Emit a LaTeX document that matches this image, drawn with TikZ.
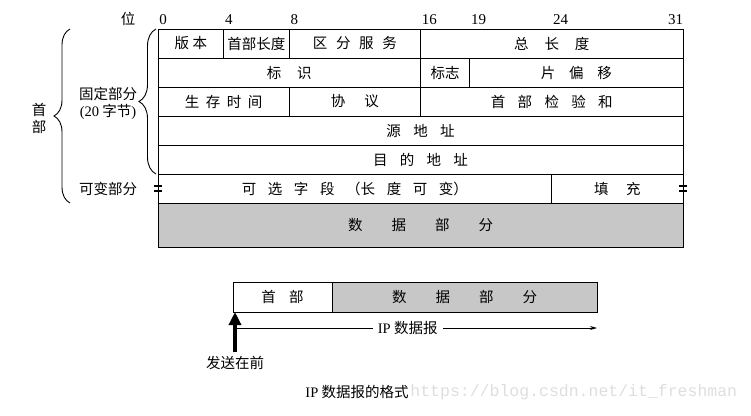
\documentclass[tikz,border=0pt]{standalone}
\usepackage{fontspec}
\setmainfont{Liberation Serif}
\newfontfamily\cjk{Noto Sans CJK SC}
\newfontfamily\wmfont{Liberation Mono}
\usetikzlibrary{positioning,arrows.meta,decorations.pathreplacing}
\definecolor{datagray}{gray}{0.78}
\newcommand{\cgap}[1]{\hspace{#1em}}
\def\bw{16.40625}

\begin{document}
\begin{tikzpicture}[x=1pt,y=-1pt,thick,
  cell/.style={draw,line width=0.9pt,inner sep=0pt,outer sep=0pt,minimum height=29pt,font=\cjk\fontsize{14.5}{17}\selectfont},
  side/.style={align=center,inner sep=0pt,font=\cjk\fontsize{14.5}{17}\selectfont},
  bitlabel/.style={anchor=west,inner sep=1pt,font=\fontsize{15}{17}\selectfont},
  curly/.style={decorate,decoration={brace,amplitude=#1},line width=0.9pt},
  eqmark/.style={line width=1.6pt},
  shaded/.style={fill=datagray}]

  \useasboundingbox (0,0) rectangle (751,415);

  \node[side] (wei) at (128,18.5) {位};
  \foreach \b in {0,4,8,16,19,24,31}
    \node[bitlabel] (bit\b) at ({158+\b*\bw},19.5) {\b};

  \node[cell,minimum width=4*\bw pt,anchor=north west] (ver) at (158,29) {版\cgap{.25}本};
  \node[cell,minimum width=4*\bw pt,right=0pt of ver] (ihl) {首部长度};
  \node[cell,minimum width=8*\bw pt,right=0pt of ihl] (tos) {区\cgap{.6}分\cgap{.6}服\cgap{.6}务};
  \node[cell,minimum width=16*\bw pt,right=0pt of tos] (tlen) {总\cgap{1.1}长\cgap{1.1}度};

  \node[cell,minimum width=16*\bw pt,below=0pt of ver.south west,anchor=north west] (ident) {标\cgap{1.1}识};
  \node[cell,minimum width=3*\bw pt,right=0pt of ident] (flag) {标志};
  \node[cell,minimum width=13*\bw pt,right=0pt of flag] (frag) {片\cgap{.95}偏\cgap{.95}移};

  \node[cell,minimum width=8*\bw pt,below=0pt of ident.south west,anchor=north west] (ttl) {生\cgap{.45}存\cgap{.45}时\cgap{.45}间};
  \node[cell,minimum width=8*\bw pt,right=0pt of ttl] (proto) {协\cgap{1.3}议};
  \node[cell,minimum width=16*\bw pt,right=0pt of proto] (csum) {首\cgap{.85}部\cgap{.85}检\cgap{.85}验\cgap{.85}和};

  \node[cell,minimum width=32*\bw pt,below=0pt of ttl.south west,anchor=north west] (src) {源\cgap{.85}地\cgap{.85}址};
  \node[cell,minimum width=32*\bw pt,below=0pt of src.south west,anchor=north west] (dst) {目\cgap{.85}的\cgap{.85}地\cgap{.85}址};

  \node[cell,minimum width=24*\bw pt,below=0pt of dst.south west,anchor=north west] (opt) {可\cgap{.8}选\cgap{.8}字\cgap{.8}段\cgap{.8}（长\cgap{.8}度\cgap{.8}可\cgap{.8}变）};
  \node[cell,minimum width=8*\bw pt,right=0pt of opt] (pad) {填\cgap{1.2}充};

  \node[cell,shaded,minimum width=32*\bw pt,minimum height=44pt,below=0pt of opt.south west,anchor=north west] (data) {数\cgap{2}据\cgap{2}部\cgap{2}分};

  \draw[eqmark] ([xshift=-4pt,yshift=2.3pt]opt.west) -- ([xshift=4pt,yshift=2.3pt]opt.west);
  \draw[eqmark] ([xshift=-4pt,yshift=-2.3pt]opt.west) -- ([xshift=4pt,yshift=-2.3pt]opt.west);
  \draw[eqmark] ([xshift=-4pt,yshift=2.3pt]pad.east) -- ([xshift=4pt,yshift=2.3pt]pad.east);
  \draw[eqmark] ([xshift=-4pt,yshift=-2.3pt]pad.east) -- ([xshift=4pt,yshift=-2.3pt]pad.east);

  \node[side] (hdrlab) at (39,118) {首\\部};
  \node[side] (fixlab) at (108,103) {固定部分\\{\rmfamily(20} 字节{\rmfamily)}};
  \node[side] (varlab) at (108,189) {可变部分};

  \draw[curly=16] ([xshift=-88pt]opt.south west) -- ([xshift=-88pt]ver.north west);
  \draw[curly=17] ([xshift=-2pt]dst.south west) -- ([xshift=-2pt]ver.north west);

  \node[cell,minimum width=99pt,minimum height=30pt,anchor=north west] (hdr) at (233,282) {首\cgap{.9}部};
  \node[cell,shaded,minimum width=265pt,minimum height=30pt,right=0pt of hdr] (body) {数\cgap{2}据\cgap{2}部\cgap{2}分};

  \coordinate[below=16pt of hdr.south west] (ipL);
  \coordinate[below=16pt of body.south east] (ipR);
  \draw[-{Stealth[length=7pt,width=4pt]},line width=0.7pt] (ipL) -- node[pos=.48,fill=white,inner xsep=5pt,inner ysep=1pt,font=\cjk\fontsize{14.5}{17}\selectfont] (iplab) {{\rmfamily IP} 数据报} (ipR);

  \node[side] (send) at (235,363) {发送在前};
  \draw[-{Triangle[width=12pt,length=13pt]},line width=3.5pt] ([yshift=4pt]send.north) -- ([xshift=2pt]hdr.south west);

  \node[side] (caption) at (357,392) {{\rmfamily IP} 数据报的格式};
  \node[anchor=west,inner sep=0pt,text=black!13,font=\wmfont\fontsize{16.5}{18}\selectfont] (wmark) at (410,392) {https://blog.csdn.net/it\_freshman};
\end{tikzpicture}
\end{document}
